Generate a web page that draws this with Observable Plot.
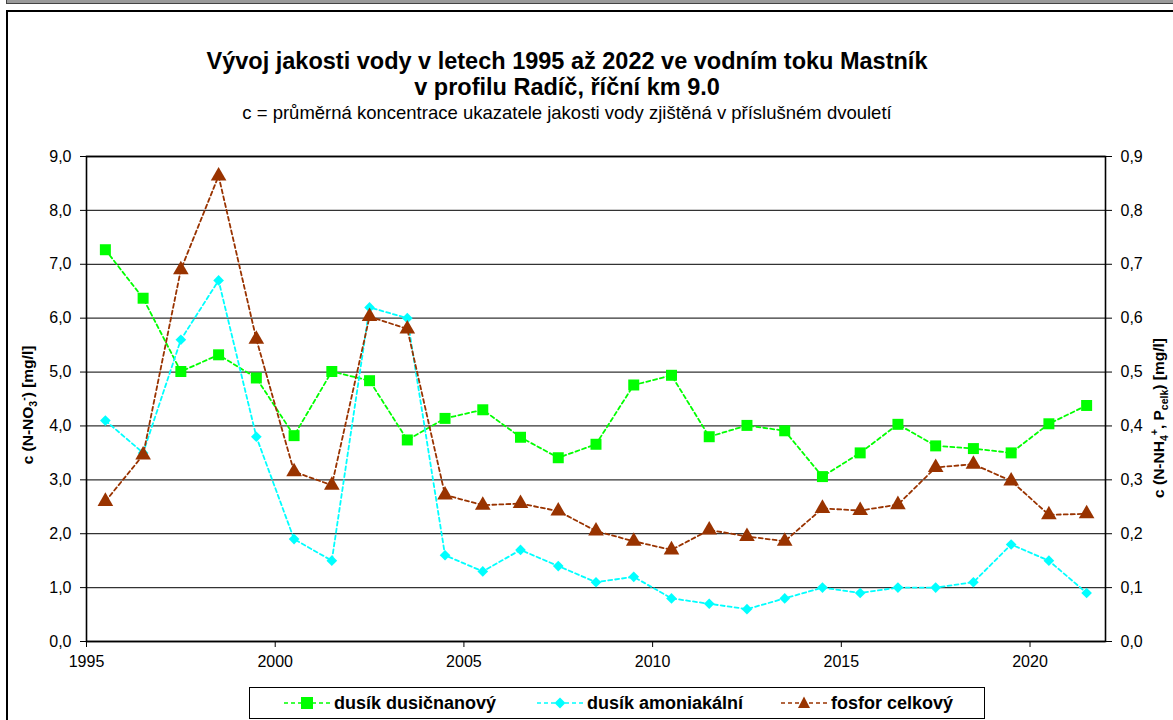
<!DOCTYPE html>
<html>
<head>
<meta charset="utf-8">
<script src="https://cdn.jsdelivr.net/npm/d3@7"></script>
<script src="https://cdn.jsdelivr.net/npm/@observablehq/plot@0.6"></script>
<style>
  html, body { margin: 0; padding: 0; background: #fff; }
  body { width: 1173px; height: 720px; position: relative; overflow: hidden; font-family: "Liberation Sans", Arial, sans-serif; }
  #topbar { position: absolute; left: 6px; top: -2px; width: 1180px; height: 4px; background: #9a9a9a; border: 1px solid #444; }
  #frame { position: absolute; left: 6px; top: 10px; width: 1180px; height: 730px; border: 2px solid #000; box-sizing: border-box; }
  #chart { position: absolute; left: 0; top: 0; }
  .title { position: absolute; left: 67px; width: 1000px; text-align: center; color: #000; white-space: nowrap; }
  #t1 { top: 48px; font-weight: bold; font-size: 23.5px; line-height: 26px; }
  #t2 { top: 102px; font-size: 18.5px; line-height: 22px; }
  .ylab { position: absolute; font-weight: bold; font-size: 15.5px; white-space: nowrap; transform-origin: center center; transform: translate(-50%, -50%) rotate(-90deg); }
  .ylab sub, .ylab sup { font-size: 10.5px; }
  #legend { position: absolute; left: 249px; top: 687px; width: 736px; height: 32px; border: 1px solid #000; box-sizing: border-box; background: #fff; }
  .li { position: absolute; top: 0; height: 30px; display: flex; align-items: center; font-weight: bold; font-size: 18px; white-space: nowrap; }
  .li svg { margin-right: 4px; }
</style>
</head>
<body>
<div id="topbar"></div>
<div id="frame"></div>
<div id="chart"></div>
<div class="title" id="t1">Vývoj jakosti vody v letech 1995 až 2022 ve vodním toku Mastník<br>v profilu Radíč, říční km 9.0</div>
<div class="title" id="t2">c = průměrná koncentrace ukazatele jakosti vody zjištěná v příslušném dvouletí</div>
<div class="ylab" style="left:28px; top:405px;">c (N-NO<sub>3</sub><sup>-</sup>) [mg/l]</div>
<div class="ylab" style="left:1159px; top:418px;">c (N-NH<sub>4</sub><sup>+</sup>, P<sub>celk</sub>) [mg/l]</div>
<div id="legend"></div>
<script>
// ---- data ----
const years = [1995.5, 1996.5, 1997.5, 1998.5, 1999.5, 2000.5, 2001.5, 2002.5, 2003.5, 2004.5,
               2005.5, 2006.5, 2007.5, 2008.5, 2009.5, 2010.5, 2011.5, 2012.5, 2013.5, 2014.5,
               2015.5, 2016.5, 2017.5, 2018.5, 2019.5, 2020.5, 2021.5];
// left axis [mg/l]
const dusicnanovy = [7.27, 6.37, 5.01, 5.32, 4.89, 3.82, 5.01, 4.84, 3.74, 4.14,
                     4.30, 3.79, 3.41, 3.66, 4.76, 4.94, 3.80, 4.01, 3.91, 3.06,
                     3.50, 4.03, 3.63, 3.58, 3.50, 4.04, 4.38];
// right axis [mg/l]
const amoniakalni = [0.41, 0.35, 0.56, 0.67, 0.38, 0.19, 0.15, 0.62, 0.60, 0.16,
                     0.13, 0.17, 0.14, 0.11, 0.12, 0.08, 0.07, 0.06, 0.08, 0.10,
                     0.09, 0.10, 0.10, 0.11, 0.18, 0.15, 0.09];
const fosfor = [0.26, 0.346, 0.69, 0.864, 0.561, 0.315, 0.29, 0.603, 0.58, 0.272,
                0.253, 0.256, 0.242, 0.205, 0.186, 0.17, 0.207, 0.195, 0.186, 0.247,
                0.243, 0.254, 0.323, 0.329, 0.298, 0.235, 0.237];
const xTicks = [1995, 2000, 2005, 2010, 2015, 2020];
const yTicksLeft = [0, 1, 2, 3, 4, 5, 6, 7, 8, 9];
const seriesNames = ["dusík dusičnanový", "dusík amoniakální", "fosfor celkový"];
const colors = ["#00ff00", "#00ffff", "#993300"];
const rightFactor = 10; // right axis 0..0.9 mapped to left 0..9

const fmt = d => d.toFixed(1).replace(".", ",");

const rows = (vals, factor) => years.map((y, i) => ({x: y, y: vals[i] * factor}));
const green = rows(dusicnanovy, 1);
const cyan = rows(amoniakalni, rightFactor);
const brown = rows(fosfor, rightFactor);

const lineOpts = (c) => ({x: "x", y: "y", stroke: c, strokeWidth: 1.8, strokeDasharray: "4,3"});

const chart = Plot.plot({
  width: 1173,
  height: 720,
  marginTop: 156,
  marginBottom: 79,
  marginLeft: 86,
  marginRight: 68,
  style: {fontFamily: "'Liberation Sans', Arial, sans-serif", fontSize: "16px", color: "#000", background: "transparent", overflow: "visible"},
  x: {domain: [1995, 2022]},
  y: {domain: [0, 9]},
  marks: [
    Plot.gridY(yTicksLeft, {stroke: "#000", strokeOpacity: 0.8, strokeWidth: 1.3}),
    Plot.frame({stroke: "#000", strokeWidth: 1.6}),
    Plot.axisY({ticks: yTicksLeft, tickFormat: fmt, tickSize: 6, tickPadding: 9, label: null, fontSize: 16}),
    Plot.axisY({anchor: "right", ticks: yTicksLeft, tickFormat: d => fmt(d / rightFactor), tickSize: 6, tickPadding: 9, label: null, fontSize: 16}),
    Plot.axisX({ticks: xTicks, tickFormat: d => String(d), tickSize: 6, tickPadding: 8, label: null, fontSize: 16}),
    Plot.line(green, lineOpts(colors[0])),
    Plot.line(cyan, lineOpts(colors[1])),
    Plot.line(brown, lineOpts(colors[2])),
    Plot.dot(green, {x: "x", y: "y", symbol: "square", r: 6.2, fill: colors[0], stroke: "none"}),
    Plot.dot(cyan, {x: "x", y: "y", symbol: "diamond2", r: 4.8, fill: colors[1], stroke: "none"}),
    Plot.dot(brown, {x: "x", y: "y", symbol: "triangle", r: 5.8, fill: colors[2], stroke: "none"})
  ]
});
document.getElementById("chart").appendChild(chart);

// ---- legend ----
const legend = document.getElementById("legend");
const legendLeft = [34, 287, 531];
const symbolsPaths = [
  '<rect x="17" y="4" width="12" height="12"/>',
  '<path d="M23,4.5 L28.5,10 L23,15.5 L17.5,10 Z"/>',
  '<path d="M23,3.5 L29,15 L17,15 Z"/>'
];
seriesNames.forEach((name, i) => {
  const d = document.createElement("div");
  d.className = "li";
  d.style.left = legendLeft[i] + "px";
  d.innerHTML = `<svg width="46" height="20" viewBox="0 0 46 20"><line x1="0" y1="10" x2="46" y2="10" stroke="${colors[i]}" stroke-width="1.6" stroke-dasharray="4,3"/><g fill="${colors[i]}">${symbolsPaths[i]}</g></svg><span>${name}</span>`;
  legend.appendChild(d);
});
</script>
</body>
</html>
